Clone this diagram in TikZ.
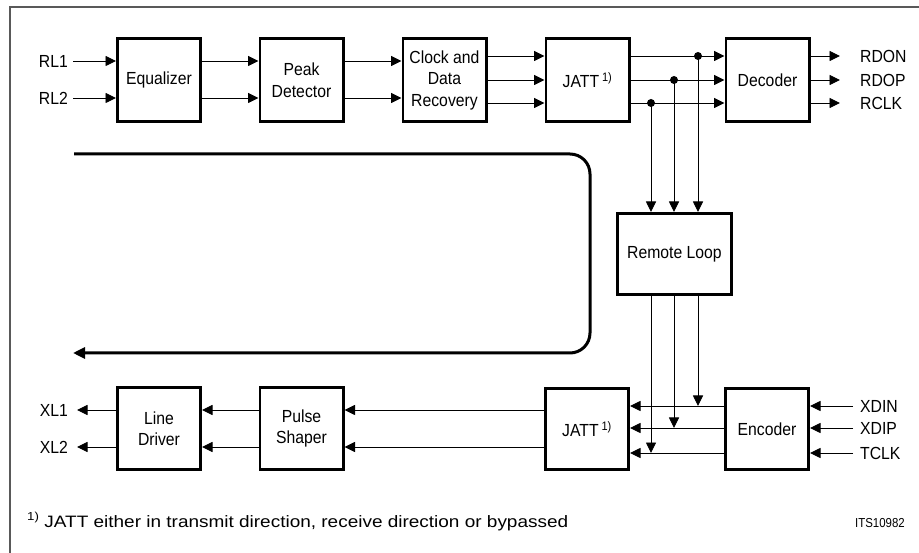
\documentclass[tikz,border=0pt]{standalone}
\usepackage{fontspec}
\setmainfont{Liberation Sans}
\newfontfamily\lblfam{Liberation Sans}[FakeStretch=0.9]
\newfontfamily\footfam{Liberation Sans}[FakeStretch=1.15]
\newfontfamily\itsfam{Liberation Sans}[FakeStretch=0.88]
\usetikzlibrary{arrows.meta}
\newcommand\lblfont{\lblfam\fontsize{17.5}{21.5}\selectfont}
\newcommand\footfont{\footfam\fontsize{16.5}{20}\selectfont}
\newcommand\itsfont{\itsfam\fontsize{13}{14}\selectfont}
\begin{document}
\begin{tikzpicture}[x=1pt,y=-1pt,
  box/.style={draw, line width=2.6pt, minimum width=83.4pt, minimum height=83.4pt, align=center, inner sep=1pt, font=\lblfont},
  conn/.style={line width=0.9pt, -{Triangle[length=10.5pt,width=10pt]}},
  lbl/.style={inner sep=0pt, font=\lblfont, text depth=0pt},
  dot/.style={circle, fill, inner sep=0pt, minimum size=8pt},
  loopline/.style={line width=3pt, rounded corners=20pt, -{Triangle[length=12pt,width=11pt]}},
  frame/.style={line width=1.4pt, black!65}]
\useasboundingbox (0,0) rectangle (919,553);
\draw[frame] (10,553) -- (10,7) -- (919,7);

% boxes
\node[box] (eq)  at (159,80)   {Equalizer};
\node[box] (pd)  at (301.5,80) {Peak\\Detector};
\node[box] (cdr) at (444.5,80) {Clock and\\Data\\Recovery};
\node[box] (ja)  at (587.5,80) {JATT\,\textsuperscript{1)}};
\node[box] (dec) at (767.5,80) {Decoder};
\node[box, minimum width=114.4pt, minimum height=81.4pt] (rl) at (674.5,254) {Remote Loop};
\node[box, minimum height=81.4pt] (jb)  at (587,429)   {JATT\,\textsuperscript{1)}};
\node[box, minimum height=81.4pt] (enc) at (767,429)   {Encoder};
\node[box, minimum height=82.4pt] (ld)  at (159,428.5) {Line\\Driver};
\node[box, minimum height=82.4pt] (ps)  at (301.5,428.5) {Pulse\\Shaper};

% labels
\node[lbl, anchor=east] (rl1) at (68,61) {RL1};
\node[lbl, anchor=east] (rl2) at (68,98) {RL2};
\node[lbl, anchor=west] (rdon) at (860,56)  {RDON};
\node[lbl, anchor=west] (rdop) at (860,80)  {RDOP};
\node[lbl, anchor=west] (rclk) at (860,103) {RCLK};
\node[lbl, anchor=west] (xdin) at (860,406) {XDIN};
\node[lbl, anchor=west] (xdip) at (860,428) {XDIP};
\node[lbl, anchor=west] (tclk) at (860,453) {TCLK};
\node[lbl, anchor=east] (xl1) at (68,410) {XL1};
\node[lbl, anchor=east] (xl2) at (68,447) {XL2};

% receive path
\draw[conn] ([xshift=5pt]rl1.east) -- (eq.west |- rl1.east);
\draw[conn] ([xshift=5pt]rl2.east) -- (eq.west |- rl2.east);
\draw[conn] (eq.east |- rl1.east) -- (pd.west |- rl1.east);
\draw[conn] (eq.east |- rl2.east) -- (pd.west |- rl2.east);
\draw[conn] (pd.east |- rl1.east) -- (cdr.west |- rl1.east);
\draw[conn] (pd.east |- rl2.east) -- (cdr.west |- rl2.east);
\draw[conn] (cdr.east |- rdon.west) -- (ja.west |- rdon.west);
\draw[conn] (cdr.east |- rdop.west) -- (ja.west |- rdop.west);
\draw[conn] (cdr.east |- rclk.west) -- (ja.west |- rclk.west);
\draw[conn] (ja.east |- rdon.west) -- (dec.west |- rdon.west);
\draw[conn] (ja.east |- rdop.west) -- (dec.west |- rdop.west);
\draw[conn] (ja.east |- rclk.west) -- (dec.west |- rclk.west);
\draw[conn] (dec.east |- rdon.west) -- ([xshift=-20pt]rdon.west);
\draw[conn] (dec.east |- rdop.west) -- ([xshift=-20pt]rdop.west);
\draw[conn] (dec.east |- rclk.west) -- ([xshift=-20pt]rclk.west);

% taps to remote loop
\node[dot] (d1) at (698,56)  {};
\node[dot] (d2) at (674,80)  {};
\node[dot] (d3) at (651,103) {};
\draw[conn] (d1.center) -- (d1 |- rl.north);
\draw[conn] (d2.center) -- (d2 |- rl.north);
\draw[conn] (d3.center) -- (d3 |- rl.north);
\draw[conn] (rl.south -| d1) -- (d1 |- xdin.west);
\draw[conn] (rl.south -| d2) -- (d2 |- xdip.west);
\draw[conn] (rl.south -| d3) -- (d3 |- tclk.west);

% transmit path
\draw[conn] ([xshift=-7pt]xdin.west) -- (enc.east |- xdin.west);
\draw[conn] ([xshift=-7pt]xdip.west) -- (enc.east |- xdip.west);
\draw[conn] ([xshift=-7pt]tclk.west) -- (enc.east |- tclk.west);
\draw[conn] (enc.west |- xdin.west) -- (jb.east |- xdin.west);
\draw[conn] (enc.west |- xdip.west) -- (jb.east |- xdip.west);
\draw[conn] (enc.west |- tclk.west) -- (jb.east |- tclk.west);
\draw[conn] (jb.west |- xl1.east) -- (ps.east |- xl1.east);
\draw[conn] (jb.west |- xl2.east) -- (ps.east |- xl2.east);
\draw[conn] (ps.west |- xl1.east) -- (ld.east |- xl1.east);
\draw[conn] (ps.west |- xl2.east) -- (ld.east |- xl2.east);
\draw[conn] (ld.west |- xl1.east) -- ([xshift=9pt]xl1.east);
\draw[conn] (ld.west |- xl2.east) -- ([xshift=9pt]xl2.east);

% loop
\coordinate (lA) at (74,154);
\coordinate (lB) at (590,154);
\coordinate (lC) at (590,353);
\coordinate (lD) at (73,353);
\draw[loopline] (lA) -- (lB) -- (lC) -- (lD);

% footnote
\node[anchor=base west, inner sep=0pt, font=\footfont] (fn) at (27,527) {\textsuperscript{1)}\hspace{0.3em}JATT either in transmit direction, receive direction or bypassed};
\node[anchor=base east, inner sep=0pt, font=\itsfont] (its) at (905,527) {ITS10982};
\end{tikzpicture}
\end{document}
